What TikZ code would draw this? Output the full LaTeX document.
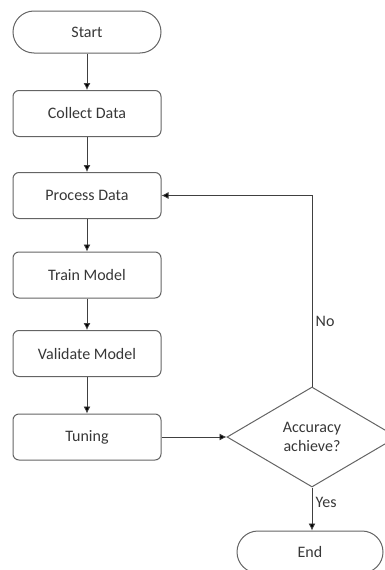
\documentclass[tikz,border=0pt]{standalone}
\usepackage{fontspec}
\setmainfont{Carlito}
\usetikzlibrary{shapes.geometric}
\usetikzlibrary{arrows.meta}
\usetikzlibrary{positioning}

\definecolor{linegray}{RGB}{100,100,100}
\definecolor{textgray}{RGB}{55,55,55}

\tikzset{
  process/.style={draw=linegray, line width=1pt, rounded corners=6pt, minimum width=148pt, minimum height=46pt, text=textgray, font=\fontsize{16}{18}\selectfont},
  terminal/.style={process, rounded corners=21pt, minimum height=42pt},
  decision/.style={draw=linegray, line width=1pt, diamond, aspect=1.7, minimum width=170pt, minimum height=100pt, inner sep=0pt, text=textgray, align=center, font=\fontsize{16}{19}\selectfont},
  flow/.style={draw=black!75, line width=0.8pt, -{Latex[length=7pt,width=7pt,fill=black]}},
  lbl/.style={text=textgray, font=\fontsize{16}{18}\selectfont}
}

\begin{document}
\begin{tikzpicture}[x=1pt,y=-1pt]
\useasboundingbox (0,0) rectangle (385,570);

%left column
\node[terminal] (start) at (87,32) {Start};
\node[process] (collect) at (87,113.5) {Collect Data};
\node[process] (proc) at (87,195.5) {Process Data};
\node[process] (train) at (87,275) {Train Model};
\node[process] (valid) at (87,353.5) {Validate Model};
\node[process] (tune) at (87,437) {Tuning};

%right column
\node[decision] (acc) at (312,437) {Accuracy\\achieve?};
\node[terminal, minimum width=146pt] (end) at (310,552) {End};

%arrows
\draw[flow] (start) -- (collect);
\draw[flow] (collect) -- (proc);
\draw[flow] (proc) -- (train);
\draw[flow] (train) -- (valid);
\draw[flow] (valid) -- (tune);
\draw[flow] (tune) -- (acc);
\draw[flow] (acc.north) |- node[lbl, right, pos=0.17] (no) {No} (proc.east);
\draw[flow] (acc.south) -- node[lbl, right, pos=0.35] (yes) {Yes} (acc.south |- end.north);

\end{tikzpicture}
\end{document}
